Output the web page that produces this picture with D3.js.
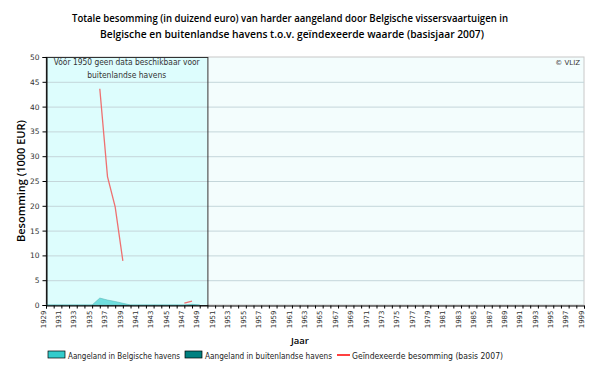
<!DOCTYPE html>
<html><head><meta charset="utf-8">
<script src="https://cdn.jsdelivr.net/npm/d3@7"></script>
<style>
body{margin:0;background:#fff;}
svg{display:block;}
text{font-family:"DejaVu Sans",Verdana,sans-serif;}
</style></head>
<body><svg id="c" width="600" height="368"></svg>
<script>
const titleLines = ["Totale besomming (in duizend euro) van harder aangeland door Belgische vissersvaartuigen in",
                    "Belgische en buitenlandse havens t.o.v. geïndexeerde waarde (basisjaar 2007)"];
const years = d3.range(1929, 1950);
const belgisch = [0,0,0,0,0,0,0,1.4,1.0,0.7,0.35,0,0,0,0,0,0,0,0,0.15,0];
const buitenland = [null,null,null,null,null,null,null,null,null,null,null,null,null,null,null,null,null,null,null,null,null];
const geindexeerd = [null,null,null,null,null,null,null,43.6,25.9,19.8,8.9,null,null,null,null,null,null,null,0.4,0.8,null];
const yTicks = [0,5,10,15,20,25,30,35,40,45,50];
const xLabels = d3.range(1929, 2000, 2);
const legendItems = ["Aangeland in Belgische havens","Aangeland in buitenlandse havens","Geïndexeerde besomming (basis 2007)"];

const svg = d3.select("#c");
const x = d3.scaleLinear().domain([1929,1999]).range([46,584]);
const y = d3.scaleLinear().domain([0,50]).range([305,57]);

// title
svg.selectAll("text.title").data(titleLines).enter().append("text").attr("class","title")
  .attr("x",(d,i)=>i===0?290:292).attr("y",(d,i)=>22+i*16).attr("text-anchor","middle")
  .attr("font-size",11).attr("font-weight",600).attr("fill","#000")
  .style("font-family","'Open Sans',sans-serif")
  .attr("textLength",(d,i)=>i===0?436:384).attr("lengthAdjust","spacingAndGlyphs")
  .text(d=>d);

// plot background
svg.append("rect").attr("x",x(1929)).attr("y",y(50)).attr("width",x(1999)-x(1929)).attr("height",y(0)-y(50))
  .attr("fill","#f3fdfd").attr("stroke","#c8c8c8");
// shaded pre-1950 box
svg.append("rect").attr("x",x(1929)).attr("y",y(50)).attr("width",x(1950)-x(1929)).attr("height",y(0)-y(50))
  .attr("fill","#ddfdfd");

// gridlines
svg.selectAll("line.grid").data(yTicks.filter(d=>d>0&&d<50)).enter().append("line")
  .attr("x1",x(1929)).attr("x2",x(1999)).attr("y1",d=>y(d)+0.5).attr("y2",d=>y(d)+0.5)
  .attr("stroke","#c4d6da").attr("stroke-width",1);

// box border
svg.append("rect").attr("x",x(1929)+0.5).attr("y",y(50)+0.5).attr("width",x(1950)-x(1929)).attr("height",y(0)-y(50))
  .attr("fill","none").attr("stroke","#333").attr("stroke-width",1);

// areas
const area = d3.area().defined(d=>d.v!=null).x(d=>x(d.yr)).y0(y(0)).y1(d=>y(d.v));
svg.append("path").datum(years.map((yr,i)=>({yr,v:belgisch[i]})))
  .attr("d",area).attr("fill","#6fdede").attr("stroke","#5fb8b8").attr("stroke-width",0.6);
svg.append("path").datum(years.map((yr,i)=>({yr,v:buitenland[i]})))
  .attr("d",area).attr("fill","#008080");

// red line
const line = d3.line().defined(d=>d.v!=null).x(d=>x(d.yr)).y(d=>y(d.v));
svg.append("path").datum(years.map((yr,i)=>({yr,v:geindexeerd[i]})))
  .attr("d",line).attr("fill","none").attr("stroke","#ee7070").attr("stroke-width",1.3);

// axes
const yAxis = d3.axisLeft(y).tickValues(yTicks).tickSize(4).tickPadding(3);
const gy = svg.append("g").attr("transform",`translate(${x(1929)+0.5},0)`).call(yAxis);
gy.select(".domain").attr("stroke","#000");
gy.selectAll("line").attr("stroke","#000");
gy.selectAll("text").attr("font-size",7.5).attr("fill","#333").style("font-family","DejaVu Sans");

const xAxis = d3.axisBottom(x).tickValues(d3.range(1929,2000)).tickSize(3).tickFormat(d=>xLabels.includes(d)?d:"");
const gx = svg.append("g").attr("transform",`translate(0,${y(0)+0.5})`).call(xAxis);
gx.select(".domain").attr("stroke","#000");
gx.selectAll("line").attr("stroke","#000");
gx.selectAll("text").attr("font-size",7).attr("fill","#333").style("font-family","DejaVu Sans")
  .attr("transform","rotate(-90)").attr("text-anchor","end").attr("x",-5).attr("y",-3).attr("dy","0.32em");

// axis titles
svg.append("text").attr("transform","translate(25,181) rotate(-90)").attr("text-anchor","middle")
  .attr("font-size",11).attr("font-weight",600).style("font-family","'Open Sans',sans-serif")
  .text("Besomming (1000 EUR)");
svg.append("text").attr("x",300).attr("y",344).attr("text-anchor","middle")
  .attr("font-size",9.5).attr("font-weight",600).style("font-family","'Open Sans',sans-serif").text("Jaar");

// annotations
svg.append("text").attr("x",(x(1929)+x(1950))/2).attr("y",65).attr("text-anchor","middle")
  .attr("font-size",8).attr("fill","#333").attr("textLength",146).attr("lengthAdjust","spacingAndGlyphs")
  .text("Vóór 1950 geen data beschikbaar voor");
svg.append("text").attr("x",(x(1929)+x(1950))/2).attr("y",78).attr("text-anchor","middle")
  .attr("font-size",8).attr("fill","#333").attr("textLength",79).attr("lengthAdjust","spacingAndGlyphs")
  .text("buitenlandse havens");
svg.append("text").attr("x",580).attr("y",65).attr("text-anchor","end")
  .attr("font-size",7).attr("fill","#333").text("© VLIZ");

// legend
const lg = svg.append("g");
const lx = [48,185,337];
lg.append("rect").attr("x",lx[0]).attr("y",351).attr("width",17).attr("height",7).attr("fill","#33cccc").attr("stroke","#000").attr("stroke-width",0.7);
lg.append("rect").attr("x",lx[1]).attr("y",351).attr("width",17).attr("height",7).attr("fill","#008080").attr("stroke","#000").attr("stroke-width",0.7);
lg.append("line").attr("x1",lx[2]).attr("x2",lx[2]+13).attr("y1",355).attr("y2",355).attr("stroke","#ff0000").attr("stroke-width",1.5);
lg.selectAll("text.leg").data(legendItems).enter().append("text").attr("class","leg")
  .attr("x",(d,i)=>[68,205,352][i]).attr("y",358.5).attr("font-size",8.5).attr("fill","#222")
  .attr("textLength",(d,i)=>[112,127,151][i]).attr("lengthAdjust","spacingAndGlyphs")
  .text(d=>d);
</script></body></html>
